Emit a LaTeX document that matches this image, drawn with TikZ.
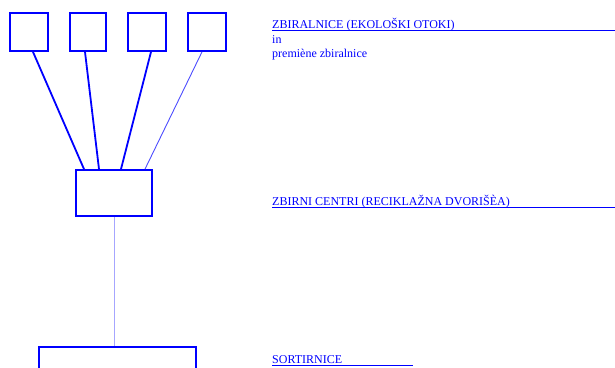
\documentclass[tikz,border=0pt]{standalone}
\usepackage{fontspec}
\setmainfont{Liberation Serif}
\usepackage{tikz}

\begin{document}
\begin{tikzpicture}[x=1pt, y=-1pt]
			\tikzset{box/.style={draw=blue, line width=1.8pt, inner sep=0pt, fill=white},
				link/.style={draw=blue, line width=1.8pt},
				label/.style={text=blue, anchor=base west, inner sep=0pt, font=\fontsize{12}{14}\selectfont},
				uline/.style={draw=blue, line width=0.9pt}}
			\useasboundingbox (0,0) rectangle (615,367);
			
			\node[box, minimum width=38pt, minimum height=38pt] (z_1) at (29,32) {};
			\node[box, minimum width=36pt, minimum height=38pt] (z_2) at (88,32) {};
			\node[box, minimum width=38pt, minimum height=38pt] (z_3) at (147,32) {};
			\node[box, minimum width=38pt, minimum height=38pt] (z_4) at (207,32) {};
			\node[box, minimum width=76pt, minimum height=46pt] (c) at (114,193) {};
			\node[box, minimum width=157pt, minimum height=40pt] (s) at (117.5,367) {};
			
			\draw[link] ([xshift=4pt]z_1.south) -- ([xshift=-30pt]c.north);
			\draw[link] ([xshift=-3pt]z_2.south) -- ([xshift=-15pt]c.north);
			\draw[link] ([xshift=4pt]z_3.south) -- ([xshift=7pt]c.north);
			\draw[blue!70, line width=0.9pt] ([xshift=-5pt]z_4.south) -- ([xshift=31pt]c.north);
			\draw[blue!35, line width=0.5pt] (c.south) -- (c.south |- s.north);
			
			\coordinate (edge) at (615,0);
			\node[label] (t_1) at (272,28) {ZBIRALNICE (EKOLOŠKI OTOKI)};
			\node[label] (t_2) at (272,43) {in};
			\node[label] (t_3) at (272,57) {premiène zbiralnice};
			\node[label] (t_4) at (272,205) {ZBIRNI CENTRI (RECIKLAŽNA DVORIŠÈA)};
			\node[label] (t_5) at (272,363) {SORTIRNICE};
			\coordinate (s_end) at (413,0);
			
			\draw[uline] ([yshift=-2pt]t_1.base west) -- ([yshift=-2pt]t_1.base west -| edge);
			\draw[uline] ([yshift=-2pt]t_4.base west) -- ([yshift=-2pt]t_4.base west -| edge);
			\draw[uline] ([yshift=-2pt]t_5.base west) -- ([yshift=-2pt]t_5.base west -| s_end);
			
		\end{tikzpicture}
\end{document}
